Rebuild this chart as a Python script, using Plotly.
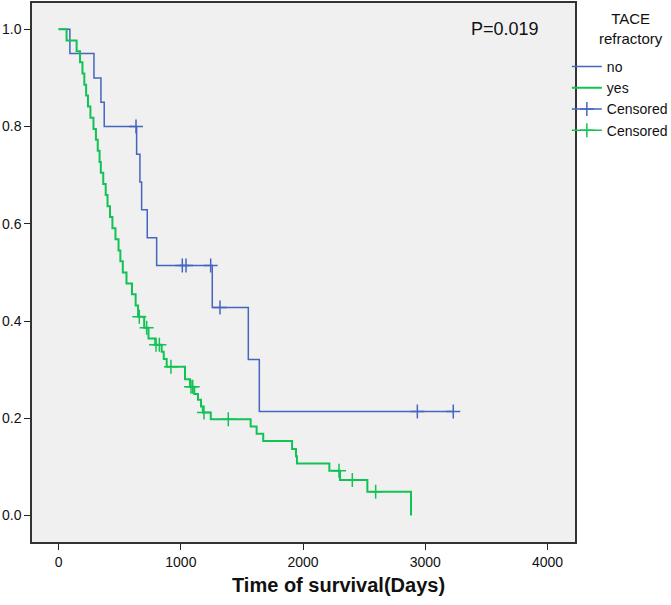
import plotly.graph_objects as go

# Kaplan-Meier steps
no_time = [0, 92, 289, 346, 373, 638, 665, 679, 725, 802, 1257, 1552, 1642, 3229]
no_surv = [1.0, 0.95, 0.90, 0.85, 0.80, 0.743, 0.686, 0.629, 0.571, 0.514, 0.428, 0.321, 0.214, 0.214]
no_cens_time = [633, 1012, 1042, 1244, 1320, 2935, 3229]
no_cens_surv = [0.80, 0.514, 0.514, 0.514, 0.428, 0.214, 0.214]

yes_time = [0, 65, 147, 175, 195, 210, 225, 240, 260, 285, 305, 320, 335, 345, 365, 385,
            400, 420, 440, 465, 490, 505, 525, 555, 600, 630, 650, 700, 735, 790, 843, 860,
            884, 1034, 1075, 1110, 1140, 1165, 1180, 1245, 1571, 1620, 1674, 1910, 1942, 1950,
            2215, 2302, 2526, 2883]
yes_surv = [1.0, 0.977, 0.955, 0.932, 0.909, 0.886, 0.864, 0.841, 0.818, 0.795, 0.773, 0.750,
            0.727, 0.705, 0.682, 0.659, 0.636, 0.614, 0.591, 0.568, 0.545, 0.523, 0.500, 0.477,
            0.455, 0.432, 0.409, 0.386, 0.364, 0.351, 0.337, 0.322, 0.306, 0.280, 0.265, 0.250,
            0.238, 0.224, 0.212, 0.198, 0.183, 0.168, 0.153, 0.137, 0.122, 0.107, 0.092, 0.073,
            0.049, 0.0]
yes_cens_time = [660, 720, 797, 824, 919, 1083, 1097, 1189, 1388, 2294, 2403, 2594]
yes_cens_surv = [0.409, 0.386, 0.351, 0.351, 0.306, 0.265, 0.265, 0.212, 0.198, 0.092, 0.073, 0.049]

x_ticks = [0, 1000, 2000, 3000, 4000]
y_ticks = [0.0, 0.2, 0.4, 0.6, 0.8, 1.0]

BLUE = '#4566BF'
GREEN = '#12C254'
FONT = 'Arial, Liberation Sans, sans-serif'


def gapped(xs, ys):
    # isolated points so the legend shows line + cross but nothing is joined
    gx, gy = [], []
    for a, b in zip(xs, ys):
        gx += [a, None]
        gy += [b, None]
    return gx, gy


fig = go.Figure()
fig.add_trace(go.Scatter(x=no_time, y=no_surv, mode='lines', name='no',
                         line=dict(color=BLUE, width=1.5, shape='hv')))
fig.add_trace(go.Scatter(x=yes_time, y=yes_surv, mode='lines', name='yes',
                         line=dict(color=GREEN, width=2, shape='hv')))

for xs, ys, col in [(no_cens_time, no_cens_surv, BLUE), (yes_cens_time, yes_cens_surv, GREEN)]:
    gx, gy = gapped(xs, ys)
    fig.add_trace(go.Scatter(x=gx, y=gy, mode='lines+markers', name='Censored',
                             connectgaps=False,
                             line=dict(color=col, width=1.5),
                             marker=dict(symbol='cross-thin', size=10, color=col,
                                         line=dict(width=1.5, color=col))))

fig.add_annotation(text='P=0.019', xref='paper', yref='paper', x=0.871, y=0.952,
                   xanchor='center', yanchor='middle', showarrow=False,
                   font=dict(size=18, color='#111', family=FONT))
fig.add_annotation(text='TACE<br>refractory', xref='paper', yref='paper', x=1.104, y=0.952,
                   xanchor='center', yanchor='middle', align='center', showarrow=False,
                   font=dict(size=15, color='#111', family=FONT))
fig.add_annotation(text='<b>Time of survival(Days)</b>', xref='paper', yref='paper',
                   x=0.565, y=-0.08, xanchor='center', yanchor='middle', showarrow=False,
                   font=dict(size=20, color='#111', family=FONT))

fig.update_layout(
    width=671, height=605,
    margin=dict(l=32, r=96, t=3, b=63, autoexpand=False),
    paper_bgcolor='white', plot_bgcolor='#F0F0F0',
    font=dict(family=FONT, size=14, color='#111'),
    legend=dict(x=0.985, y=0.911, xanchor='left', yanchor='top',
                bgcolor='rgba(0,0,0,0)', font=dict(size=14),
                tracegroupgap=0, itemwidth=30),
    showlegend=True,
)
fig.update_xaxes(range=[-218, 4225], tickvals=x_ticks, ticks='outside', ticklen=6,
                 tickcolor='#222', showgrid=False, zeroline=False, automargin=False,
                 showline=True, mirror=True, linecolor='#333', linewidth=1.5,
                 tickfont=dict(size=14))
fig.update_yaxes(range=[-0.0545, 1.054], tickvals=y_ticks, tickformat='.1f',
                 ticks='outside', ticklen=6, tickcolor='#222', showgrid=False,
                 zeroline=False, automargin=False, showline=True, mirror=True,
                 linecolor='#333', linewidth=1.5, tickfont=dict(size=14))

# the page's default body margin would push the figure 8px off the window
fig.write_html("out.html", config={'displayModeBar': False},
               post_script="document.body.style.margin='0';")
